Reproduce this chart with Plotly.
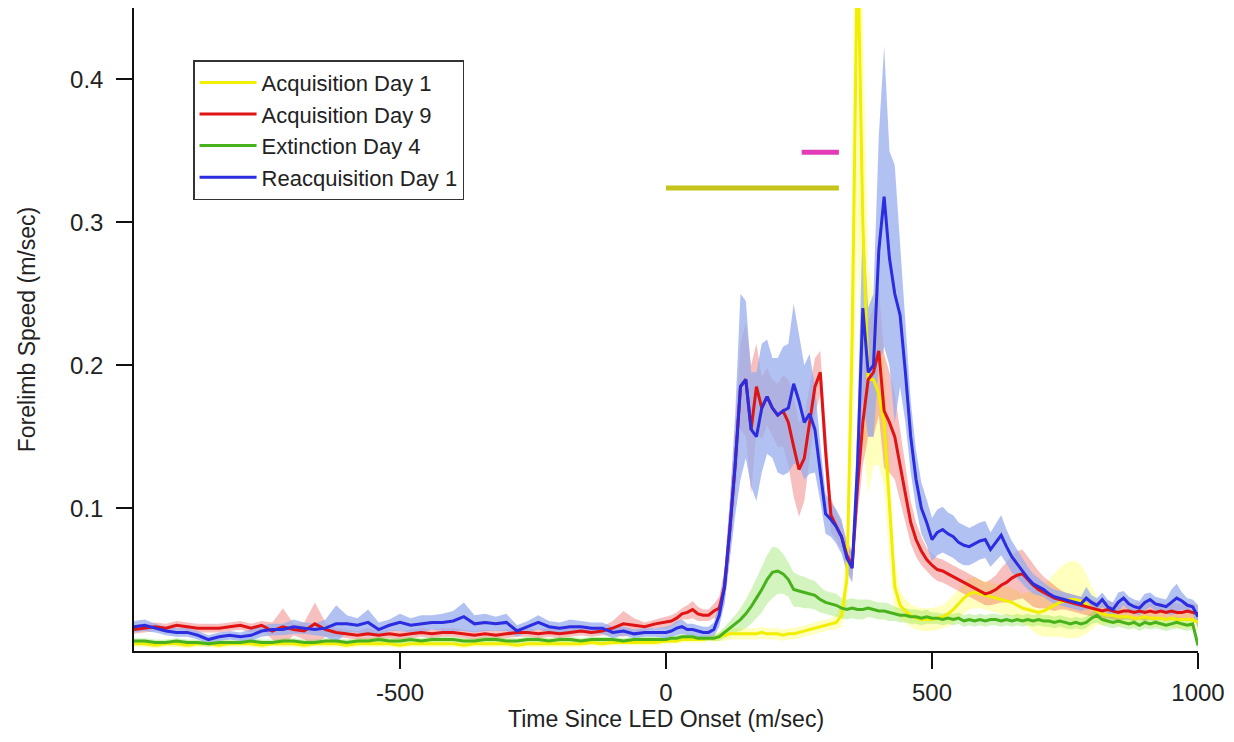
import plotly.graph_objects as go

# ---------------- data ----------------
t_pre = list(range(-1000, 0, 20))          # 50 samples
t_post = list(range(0, 1001, 10))          # 101 samples
time_ms = t_pre + t_post

series_names = ["Acquisition Day 1", "Acquisition Day 9", "Extinction Day 4", "Reacquisition Day 1"]

# Acquisition Day 1 (yellow)
acq1_pre = [0.005, 0.005, 0.004, 0.005, 0.005, 0.004, 0.005, 0.005, 0.004, 0.005,
            0.005, 0.005, 0.004, 0.005, 0.005, 0.005, 0.004, 0.005, 0.005, 0.005,
            0.004, 0.005, 0.005, 0.005, 0.005, 0.004, 0.005, 0.005, 0.005, 0.005,
            0.005, 0.004, 0.005, 0.005, 0.005, 0.005, 0.004, 0.005, 0.005, 0.005,
            0.005, 0.005, 0.005, 0.006, 0.005, 0.006, 0.006, 0.006, 0.006, 0.006]
acq1_post = [0.007, 0.007, 0.007, 0.008, 0.008, 0.008, 0.008, 0.008, 0.009, 0.009,
             0.010, 0.011, 0.012, 0.012, 0.012, 0.012, 0.012, 0.012, 0.013, 0.012,
             0.012, 0.012, 0.011, 0.012, 0.012, 0.013, 0.014, 0.015, 0.016, 0.017,
             0.018, 0.019, 0.020, 0.025, 0.050, 0.220, 0.500, 0.300, 0.190, 0.190,
             0.180, 0.160, 0.100, 0.045, 0.032, 0.028, 0.025, 0.023, 0.022, 0.022,
             0.022, 0.023, 0.024, 0.026, 0.029, 0.033, 0.037, 0.040, 0.041, 0.040,
             0.039, 0.038, 0.037, 0.036, 0.035, 0.034, 0.032, 0.030, 0.029, 0.028,
             0.027, 0.028, 0.030, 0.032, 0.034, 0.035, 0.036, 0.036, 0.035, 0.033,
             0.030, 0.028, 0.026, 0.025, 0.025, 0.024, 0.024, 0.024, 0.023, 0.023,
             0.024, 0.023, 0.023, 0.023, 0.022, 0.023, 0.022, 0.022, 0.022, 0.022,
             0.020]
acq1_sem_pre = [0.002] * 50
acq1_sem_post = [0.002, 0.002, 0.002, 0.002, 0.002, 0.002, 0.002, 0.002, 0.002, 0.003,
                 0.003, 0.004, 0.004, 0.004, 0.004, 0.004, 0.004, 0.004, 0.004, 0.004,
                 0.004, 0.004, 0.004, 0.004, 0.004, 0.004, 0.004, 0.004, 0.004, 0.004,
                 0.004, 0.004, 0.005, 0.008, 0.020, 0.100, 0.200, 0.150, 0.080, 0.060,
                 0.050, 0.045, 0.035, 0.018, 0.010, 0.008, 0.008, 0.008, 0.008, 0.008,
                 0.008, 0.008, 0.008, 0.009, 0.010, 0.010, 0.011, 0.011, 0.011, 0.010,
                 0.010, 0.010, 0.010, 0.010, 0.010, 0.010, 0.010, 0.010, 0.012, 0.014,
                 0.016, 0.018, 0.020, 0.022, 0.024, 0.026, 0.027, 0.027, 0.025, 0.021,
                 0.015, 0.010, 0.008, 0.006, 0.006, 0.006, 0.006, 0.006, 0.006, 0.006,
                 0.006, 0.006, 0.006, 0.006, 0.006, 0.006, 0.006, 0.006, 0.006, 0.006,
                 0.006]

# Acquisition Day 9 (red)
acq9_pre = [0.015, 0.016, 0.017, 0.016, 0.018, 0.017, 0.016, 0.016, 0.016, 0.017,
            0.018, 0.016, 0.018, 0.014, 0.017, 0.015, 0.014, 0.019, 0.015, 0.013,
            0.012, 0.011, 0.012, 0.011, 0.012, 0.011, 0.012, 0.013, 0.012, 0.013,
            0.013, 0.012, 0.011, 0.012, 0.011, 0.012, 0.013, 0.013, 0.012, 0.013,
            0.012, 0.013, 0.014, 0.013, 0.014, 0.016, 0.019, 0.018, 0.017, 0.019]
acq9_post = [0.020, 0.021, 0.023, 0.026, 0.027, 0.029, 0.026, 0.025, 0.025, 0.028,
             0.030, 0.045, 0.085, 0.130, 0.185, 0.190, 0.155, 0.185, 0.170, 0.178,
             0.170, 0.165, 0.168, 0.160, 0.143, 0.127, 0.135, 0.160, 0.185, 0.195,
             0.140, 0.095, 0.088, 0.080, 0.067, 0.060, 0.115, 0.160, 0.190, 0.195,
             0.210, 0.168, 0.160, 0.150, 0.130, 0.110, 0.090, 0.078, 0.070, 0.064,
             0.060, 0.057, 0.056, 0.054, 0.052, 0.050, 0.048, 0.046, 0.044, 0.042,
             0.040, 0.041, 0.043, 0.046, 0.048, 0.051, 0.053, 0.054, 0.050, 0.046,
             0.043, 0.041, 0.039, 0.037, 0.036, 0.035, 0.034, 0.033, 0.032, 0.031,
             0.030, 0.029, 0.028, 0.029, 0.028, 0.027, 0.028, 0.028, 0.027, 0.028,
             0.027, 0.028, 0.027, 0.028, 0.027, 0.028, 0.027, 0.027, 0.028, 0.027,
             0.026]
acq9_sem_pre = [0.003, 0.003, 0.003, 0.003, 0.003, 0.003, 0.003, 0.003, 0.003, 0.003,
                0.003, 0.003, 0.003, 0.006, 0.013, 0.004, 0.006, 0.015, 0.005, 0.003,
                0.003, 0.003, 0.004, 0.003, 0.003, 0.003, 0.003, 0.003, 0.003, 0.003,
                0.003, 0.003, 0.003, 0.003, 0.003, 0.003, 0.003, 0.003, 0.003, 0.003,
                0.003, 0.003, 0.003, 0.003, 0.003, 0.005, 0.009, 0.005, 0.003, 0.003]
acq9_sem_post = [0.004, 0.004, 0.004, 0.004, 0.005, 0.006, 0.005, 0.004, 0.004, 0.005,
                 0.008, 0.012, 0.020, 0.025, 0.030, 0.040, 0.045, 0.030, 0.022, 0.020,
                 0.020, 0.022, 0.025, 0.030, 0.035, 0.033, 0.030, 0.025, 0.020, 0.015,
                 0.015, 0.012, 0.010, 0.010, 0.010, 0.010, 0.020, 0.030, 0.040, 0.045,
                 0.045, 0.040, 0.035, 0.030, 0.025, 0.020, 0.015, 0.012, 0.010, 0.008,
                 0.008, 0.008, 0.008, 0.008, 0.008, 0.008, 0.008, 0.008, 0.008, 0.008,
                 0.008, 0.009, 0.010, 0.012, 0.014, 0.016, 0.017, 0.017, 0.016, 0.015,
                 0.013, 0.011, 0.010, 0.009, 0.007, 0.006, 0.006, 0.006, 0.006, 0.006,
                 0.006, 0.006, 0.006, 0.006, 0.006, 0.006, 0.006, 0.006, 0.006, 0.006,
                 0.006, 0.006, 0.006, 0.006, 0.006, 0.006, 0.006, 0.006, 0.006, 0.006,
                 0.006]

# Extinction Day 4 (green)
ext4_pre = [0.007, 0.007, 0.006, 0.006, 0.007, 0.006, 0.006, 0.005, 0.006, 0.006,
            0.006, 0.007, 0.006, 0.006, 0.007, 0.007, 0.006, 0.006, 0.007, 0.007,
            0.006, 0.007, 0.007, 0.008, 0.007, 0.007, 0.008, 0.007, 0.008, 0.008,
            0.008, 0.007, 0.007, 0.008, 0.008, 0.007, 0.007, 0.008, 0.008, 0.007,
            0.008, 0.008, 0.007, 0.008, 0.008, 0.008, 0.007, 0.008, 0.008, 0.008]
ext4_post = [0.008, 0.009, 0.009, 0.010, 0.010, 0.010, 0.009, 0.009, 0.009, 0.009,
             0.010, 0.013, 0.016, 0.019, 0.022, 0.026, 0.031, 0.037, 0.043, 0.050,
             0.055, 0.056, 0.054, 0.050, 0.043, 0.042, 0.041, 0.040, 0.039, 0.036,
             0.034, 0.033, 0.032, 0.030, 0.029, 0.030, 0.029, 0.029, 0.030, 0.029,
             0.028, 0.028, 0.027, 0.026, 0.025, 0.025, 0.024, 0.024, 0.023, 0.024,
             0.023, 0.023, 0.022, 0.023, 0.022, 0.023, 0.021, 0.022, 0.021, 0.022,
             0.021, 0.022, 0.022, 0.021, 0.022, 0.021, 0.022, 0.021, 0.022, 0.021,
             0.022, 0.021, 0.021, 0.020, 0.021, 0.020, 0.019, 0.020, 0.019, 0.020,
             0.023, 0.025, 0.022, 0.021, 0.020, 0.021, 0.020, 0.019, 0.020, 0.018,
             0.020, 0.019, 0.020, 0.019, 0.018, 0.019, 0.020, 0.019, 0.018, 0.019,
             0.004]
ext4_sem_pre = [0.002] * 50
ext4_sem_post = [0.002, 0.002, 0.002, 0.002, 0.002, 0.002, 0.002, 0.002, 0.002, 0.002,
                 0.003, 0.004, 0.005, 0.006, 0.008, 0.010, 0.012, 0.014, 0.016, 0.017,
                 0.018, 0.016, 0.014, 0.012, 0.012, 0.011, 0.011, 0.010, 0.010, 0.009,
                 0.008, 0.008, 0.008, 0.007, 0.007, 0.007, 0.007, 0.007, 0.006, 0.006,
                 0.006, 0.006, 0.006, 0.005, 0.005, 0.005, 0.005, 0.005, 0.005, 0.005,
                 0.004, 0.004, 0.004, 0.004, 0.004, 0.004, 0.004, 0.004, 0.004, 0.004,
                 0.004, 0.004, 0.004, 0.004, 0.004, 0.004, 0.004, 0.004, 0.004, 0.004,
                 0.004, 0.004, 0.004, 0.004, 0.004, 0.004, 0.004, 0.004, 0.004, 0.004,
                 0.004, 0.005, 0.004, 0.004, 0.004, 0.004, 0.004, 0.004, 0.004, 0.004,
                 0.004, 0.004, 0.004, 0.004, 0.004, 0.004, 0.004, 0.004, 0.004, 0.004,
                 0.003]

# Reacquisition Day 1 (blue)
reacq1_pre = [0.017, 0.018, 0.016, 0.014, 0.013, 0.013, 0.011, 0.008, 0.010, 0.011,
              0.010, 0.011, 0.014, 0.015, 0.015, 0.017, 0.016, 0.015, 0.016, 0.019,
              0.019, 0.018, 0.020, 0.015, 0.018, 0.020, 0.018, 0.019, 0.020, 0.020,
              0.021, 0.024, 0.019, 0.020, 0.019, 0.020, 0.014, 0.017, 0.020, 0.017,
              0.016, 0.017, 0.017, 0.016, 0.016, 0.013, 0.014, 0.012, 0.013, 0.013]
reacq1_post = [0.013, 0.014, 0.016, 0.017, 0.015, 0.015, 0.014, 0.013, 0.013, 0.015,
               0.025, 0.045, 0.085, 0.130, 0.185, 0.190, 0.155, 0.150, 0.170, 0.178,
               0.170, 0.165, 0.168, 0.170, 0.187, 0.175, 0.160, 0.166, 0.155, 0.125,
               0.096, 0.092, 0.087, 0.080, 0.065, 0.058, 0.130, 0.240, 0.195, 0.200,
               0.280, 0.318, 0.275, 0.250, 0.235, 0.195, 0.150, 0.120, 0.100, 0.090,
               0.078, 0.083, 0.085, 0.082, 0.080, 0.076, 0.074, 0.073, 0.075, 0.077,
               0.078, 0.071, 0.076, 0.081, 0.073, 0.066, 0.061, 0.056, 0.051, 0.047,
               0.045, 0.043, 0.040, 0.038, 0.037, 0.036, 0.035, 0.034, 0.033, 0.037,
               0.034, 0.032, 0.036, 0.031, 0.029, 0.034, 0.037, 0.033, 0.031, 0.030,
               0.034, 0.036, 0.033, 0.032, 0.031, 0.034, 0.037, 0.035, 0.032, 0.031,
               0.024]
reacq1_sem_pre = [0.004, 0.004, 0.003, 0.003, 0.003, 0.003, 0.003, 0.003, 0.003, 0.003,
                  0.003, 0.004, 0.004, 0.004, 0.004, 0.005, 0.004, 0.004, 0.006, 0.013,
                  0.006, 0.005, 0.009, 0.005, 0.004, 0.006, 0.005, 0.006, 0.005, 0.006,
                  0.007, 0.010, 0.006, 0.006, 0.005, 0.006, 0.004, 0.004, 0.005, 0.004,
                  0.004, 0.005, 0.004, 0.004, 0.004, 0.004, 0.003, 0.003, 0.003, 0.003]
reacq1_sem_post = [0.004, 0.004, 0.005, 0.005, 0.004, 0.004, 0.004, 0.004, 0.004, 0.005,
                   0.008, 0.012, 0.020, 0.035, 0.065, 0.055, 0.040, 0.045, 0.045, 0.040,
                   0.035, 0.040, 0.045, 0.045, 0.056, 0.045, 0.040, 0.042, 0.030, 0.020,
                   0.014, 0.012, 0.012, 0.012, 0.010, 0.010, 0.030, 0.065, 0.045, 0.050,
                   0.080, 0.105, 0.075, 0.090, 0.050, 0.035, 0.025, 0.020, 0.018, 0.016,
                   0.015, 0.016, 0.016, 0.015, 0.015, 0.014, 0.014, 0.013, 0.013, 0.013,
                   0.013, 0.012, 0.013, 0.014, 0.012, 0.011, 0.010, 0.009, 0.008, 0.007,
                   0.006, 0.005, 0.005, 0.005, 0.005, 0.005, 0.005, 0.005, 0.005, 0.008,
                   0.005, 0.005, 0.005, 0.005, 0.005, 0.007, 0.005, 0.005, 0.005, 0.005,
                   0.006, 0.005, 0.005, 0.005, 0.005, 0.009, 0.010, 0.006, 0.005, 0.005,
                   0.008]

# significance bars: start (ms), end (ms), level (m/sec)
sig_start = [0, 255]
sig_end = [325, 325]
sig_level = [0.324, 0.349]

# ---------------- styles ----------------
line_colors = ["#f2ee00", "#e01414", "#47b21c", "#2c2ce0"]
band_colors = ["rgba(255,255,40,0.30)", "rgba(235,60,60,0.33)",
               "rgba(110,220,40,0.30)", "rgba(151,172,236,0.75)"]
sig_colors = ["#c4c41a", "#e23cb6"]

means = [acq1_pre + acq1_post, acq9_pre + acq9_post, ext4_pre + ext4_post, reacq1_pre + reacq1_post]
sems = [acq1_sem_pre + acq1_sem_post, acq9_sem_pre + acq9_sem_post,
        ext4_sem_pre + ext4_sem_post, reacq1_sem_pre + reacq1_sem_post]

fig = go.Figure()

# shaded SEM bands first
for m, s, bc in zip(means, sems, band_colors):
    upper = [a + b for a, b in zip(m, s)]
    lower = [max(a - b, 0) for a, b in zip(m, s)]
    fig.add_trace(go.Scatter(
        x=time_ms + time_ms[::-1], y=upper + lower[::-1],
        fill="toself", fillcolor=bc, line=dict(width=0),
        mode="lines", hoverinfo="skip", showlegend=False))

# mean traces on top
for name, m, lc in zip(series_names, means, line_colors):
    fig.add_trace(go.Scatter(
        x=time_ms, y=m, mode="lines", name=name,
        line=dict(color=lc, width=3)))

for xs, xe, lv, c in zip(sig_start, sig_end, sig_level, sig_colors):
    fig.add_trace(go.Scatter(x=[xs, xe], y=[lv, lv], mode="lines",
                             line=dict(color=c, width=5), showlegend=False,
                             hoverinfo="skip"))

font_family = "Liberation Sans, Arial, sans-serif"

fig.update_layout(
    width=1234, height=742,
    margin=dict(l=134, r=36, t=8, b=91),
    paper_bgcolor="white", plot_bgcolor="white",
    font=dict(family=font_family, size=23, color="#222"),
    showlegend=True,
    legend=dict(x=0.0555, y=0.919, xanchor="left", yanchor="top",
                bordercolor="#333", borderwidth=1.5, bgcolor="white",
                font=dict(size=22, color="#222"), tracegroupgap=0,
                itemwidth=57),
    xaxis=dict(range=[-1000, 1000], showgrid=False, zeroline=False,
               showline=True, linecolor="#111", linewidth=1.5,
               ticks="outside", ticklen=16, tickwidth=1.5, tickcolor="#111",
               tickvals=[-500, 0, 500, 1000], ticktext=["-500", "0", "500", "1000"],
               tickfont=dict(size=24, color="#222"), ticklabelstandoff=3,
               title=dict(text="Time Since LED Onset (m/sec)", font=dict(size=23), standoff=6)),
    yaxis=dict(range=[0, 0.45], showgrid=False, zeroline=False,
               showline=True, linecolor="#111", linewidth=1.5,
               ticks="outside", ticklen=16, tickwidth=1.5, tickcolor="#111",
               tickvals=[0.1, 0.2, 0.3, 0.4], ticktext=["0.1", "0.2", "0.3", "0.4"],
               tickfont=dict(size=24, color="#222"), ticklabelstandoff=8,
               title=dict(text="Forelimb Speed (m/sec)", font=dict(size=23), standoff=28)),
)

fig.write_html("out.html")
